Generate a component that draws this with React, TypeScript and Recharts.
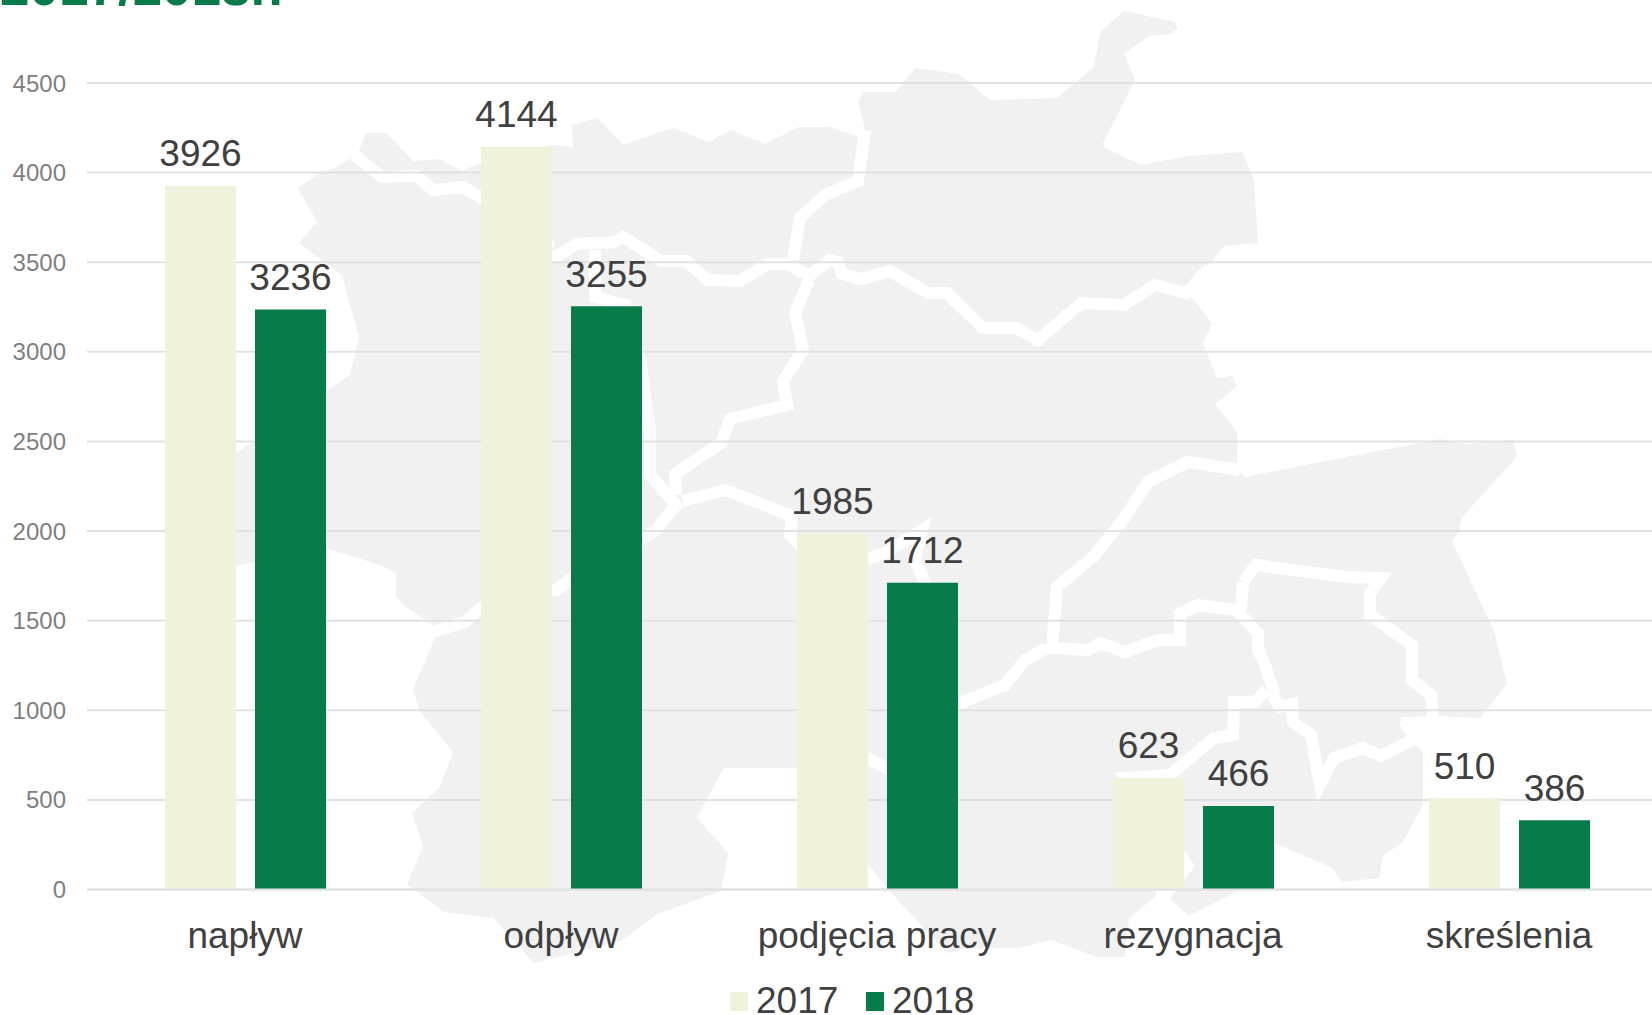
import { BarChart, Bar, XAxis, YAxis, CartesianGrid, Legend, LabelList } from "recharts";

const categories = ["napływ", "odpływ", "podjęcia pracy", "rezygnacja", "skreślenia"];
const values2017 = [3926, 4144, 1985, 623, 510];
const values2018 = [3236, 3255, 1712, 466, 386];
const yTicks = [0, 500, 1000, 1500, 2000, 2500, 3000, 3500, 4000, 4500];

const chartData = categories.map((name, i) => ({
  name,
  y2017: values2017[i],
  y2018: values2018[i],
}));

const FONT = '"Liberation Sans", Arial, sans-serif';
const COLOR_2017 = "#F0F2DC";
const COLOR_2018 = "#077C4A";
const TEXT = "#404040";
const GRID = "#E2E2E2";
const MAP_FILL = "#F1F1F1";

// background map of the region, purely decorative
const mapOutline =
  "298,188 317,175 338,166 349,159 359,151 366,133 386,133 413,161 439,159 462,171 480,163 552,145 573,147 572,125 598,118 623,145 673,128 708,142 731,130 765,144 799,127 830,127 859,137 865,128 858,103 863,92 896,92 915,68 959,74 990,100 1057,98 1094,67 1100,32 1124,11 1175,22 1178,29 1170,34 1150,36 1124,53 1135,80 1103,143 1104,147 1141,165 1189,156 1242,152 1254,180 1258,243 1224,246 1187,292 1212,323 1203,343 1217,378 1232,376 1237,386 1215,404 1237,432 1237,464 1244,477 1440,439 1465,444 1513,440 1517,457 1462,517 1459,532 1452,541 1494,631 1507,684 1480,718 1437,716 1402,717 1399,724 1407,736 1416,746 1423,752 1423,804 1403,842 1383,856 1379,878 1342,882 1331,867 1274,843 1240,890 1189,916 1170,899 1195,866 1184,850 1165,840 1155,897 1129,918 1125,957 1097,957 1051,940 1019,948 962,949 947,953 887,888 867,863 840,800 850,763 797,768 724,768 697,818 728,853 721,891 657,914 623,940 534,963 493,918 444,912 407,884 423,847 412,813 440,787 453,752 419,710 413,689 435,638 432,632 396,597 396,573 380,565 326,548 236,566 236,453 350,375 359,338 342,275 299,243 317,222";

const mapBorders = [
  "354,155 382,177 417,176 433,190 463,187 480,197 510,215 552,248",
  "540,255 557,256 577,244 592,243 612,243 623,237 661,261 686,261 708,280 740,281 768,264 788,264 809,276 830,260 838,262 842,274 861,279 890,271 928,293 947,293 983,328 1016,328 1038,340 1081,303 1124,305 1155,285 1186,293 1210,268",
  "793,260 800,218 825,195 858,181 865,130",
  "809,280 795,313 803,350 783,381 787,405 730,419 721,443 675,474 676,495",
  "595,250 595,297 625,305 640,360 650,430 650,475 676,505 655,531 640,540 600,555 570,580 556,590 520,590 480,609 465,622 432,632 400,610",
  "683,501 725,490 792,516 790,535 800,545 860,562 887,552 922,530 915,560 925,582 935,650 930,720 900,775 867,758 835,745",
  "1047,648 1025,660 1005,685 958,704 925,730",
  "1240,470 1188,462 1148,482 1123,520 1093,557 1057,587 1052,648 1088,650 1100,643 1125,652 1158,640 1180,640 1180,614 1198,605 1236,610 1258,633 1258,650 1264,662 1275,695",
  "1243,582 1256,565 1345,577 1381,578 1370,594 1370,615 1412,645 1412,680 1431,695 1433,716",
  "1241,610 1243,582",
  "1266,690 1255,702 1234,702 1233,735 1214,738 1170,775 1125,778 1165,840",
  "1272,695 1280,707 1292,704 1293,722 1311,735 1320,785 1334,758 1363,748 1381,756 1412,740",
];

function ChartLegend() {
  const items = [
    { label: "2017", color: COLOR_2017, width: 136 },
    { label: "2018", color: COLOR_2018, width: 120 },
  ];
  return (
    <div style={{ display: "flex", fontFamily: FONT, fontSize: 37, color: TEXT, lineHeight: "40px" }}>
      {items.map((item) => (
        <div key={item.label} style={{ display: "flex", alignItems: "center", width: item.width }}>
          <span style={{ width: 18, height: 19, background: item.color, marginRight: 8, flex: "none" }} />
          {item.label}
        </div>
      ))}
    </div>
  );
}

export default function App() {
  const labelStyle = { fontSize: 37, fill: TEXT, fontFamily: FONT };
  return (
    <div
      style={{
        position: "absolute",
        left: 0,
        top: 0,
        width: 1652,
        height: 1015,
        overflow: "hidden",
        background: "#fff",
        fontFamily: FONT,
      }}
    >
      <svg width={1652} height={1015} style={{ position: "absolute", left: 0, top: 0 }}>
        <polygon points={mapOutline} fill={MAP_FILL} />
        {mapBorders.map((pts, i) => (
          <polyline key={i} points={pts} fill="none" stroke="#fff" strokeWidth={12} strokeLinejoin="miter" />
        ))}
        <text x={0} y={5} fontFamily={FONT} fontWeight={700} fontSize={53} fill={COLOR_2018}>
          2017/2018r.
        </text>
      </svg>
      <div style={{ position: "absolute", left: 0, top: 0 }}>
        <BarChart
          width={1667}
          height={1015}
          data={chartData}
          margin={{ top: 83, right: 0, bottom: 0, left: 0 }}
          barSize={71}
          barGap={19}
        >
          <CartesianGrid vertical={false} stroke={GRID} strokeWidth={2} />
          <XAxis
            dataKey="name"
            height={125.5}
            interval={0}
            tickLine={false}
            tickSize={0}
            tickMargin={32}
            axisLine={{ stroke: GRID, strokeWidth: 2 }}
            tick={{ fontSize: 37, fill: TEXT, fontFamily: FONT }}
          />
          <YAxis
            width={87}
            domain={[0, 4500]}
            ticks={yTicks}
            interval={0}
            tickLine={false}
            tickSize={0}
            tickMargin={21}
            axisLine={false}
            tick={{ fontSize: 24, fill: "#7F7F7F", fontFamily: FONT }}
          />
          <Legend
            layout="horizontal"
            verticalAlign="middle"
            wrapperStyle={{ left: 730, top: 981, width: 300 }}
            content={() => <ChartLegend />}
          />
          <Bar dataKey="y2017" name="2017" fill={COLOR_2017} isAnimationActive={false}>
            <LabelList dataKey="y2017" position="top" offset={19.5} style={labelStyle} />
          </Bar>
          <Bar dataKey="y2018" name="2018" fill={COLOR_2018} isAnimationActive={false}>
            <LabelList dataKey="y2018" position="top" offset={19.5} style={labelStyle} />
          </Bar>
        </BarChart>
      </div>
    </div>
  );
}
